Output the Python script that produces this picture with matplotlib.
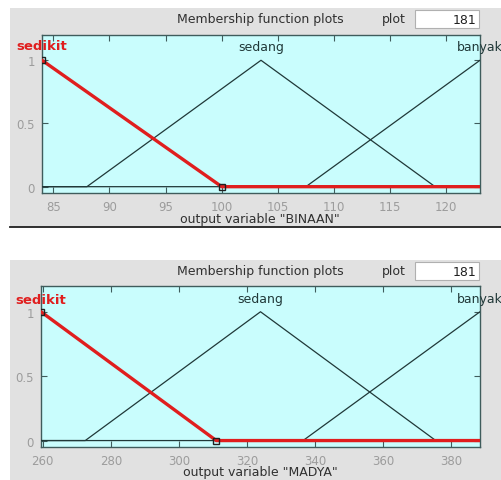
import matplotlib
matplotlib.use("Agg")
import matplotlib.pyplot as plt
from matplotlib.patches import Rectangle
from matplotlib.lines import Line2D

plt.rcParams['font.family'] = ['DejaVu Sans']

W, H = 501, 481

# ---- data: top panel (BINAAN) ----
binaan_xlim = [84, 123]
binaan_xticks = [85, 90, 95, 100, 105, 110, 115, 120]
binaan_sedikit_x = [84, 100, 123]
binaan_sedikit_y = [1, 0, 0]
binaan_sedang_x = [84, 88, 103.5, 119, 123]
binaan_sedang_y = [0, 0, 1, 0, 0]
binaan_banyak_x = [84, 107.5, 123]
binaan_banyak_y = [0, 0, 1]

# ---- data: bottom panel (MADYA) ----
madya_xlim = [259.5, 388.5]
madya_xticks = [260, 280, 300, 320, 340, 360, 380]
madya_sedikit_x = [259.5, 311, 388.5]
madya_sedikit_y = [1, 0, 0]
madya_sedang_x = [259.5, 272.5, 324, 375.5, 388.5]
madya_sedang_y = [0, 0, 1, 0, 0]
madya_banyak_x = [259.5, 336.5, 388.5]
madya_banyak_y = [0, 0, 1]

yticks = [0, 0.5, 1]
ytick_labels = ['0', '0.5', '1']
mf_names = ['sedikit', 'sedang', 'banyak']
plot_points = '181'

GRAY = '#e1e1e1'
CYAN = '#c9fdfd'
SPINE = '#3f5c5c'
TICKLBL = '#9c9c9c'
DARK = '#203838'
RED = '#e01e1e'


def fx(x):
    return x / W


def fy(y):
    return 1 - y / H


fig = plt.figure(figsize=(W / 100, H / 100), dpi=100)
fig.patch.set_facecolor('white')


def panel(gtop, gbot, ax_rect_px, xlim, xticks, sed_x, sed_y, sdg_x, sdg_y,
          bny_x, bny_y, xlabel, title_y, label_y, xlabel_y, black_line):
    fig.add_artist(Rectangle((fx(10), fy(gbot)), fx(501) - fx(10), fy(gtop) - fy(gbot),
                             transform=fig.transFigure, facecolor=GRAY,
                             edgecolor='none', zorder=0))
    if black_line:
        fig.add_artist(Line2D([fx(10), 1], [fy(gbot), fy(gbot)],
                              transform=fig.transFigure, color='#202020', lw=1.3))
    l, t, r, b = ax_rect_px
    ax = fig.add_axes([fx(l), fy(b), fx(r) - fx(l), fy(t) - fy(b)])
    ax.set_facecolor(CYAN)
    ax.set_xlim(xlim)
    ax.set_ylim(-0.05, 1.2)
    ax.set_xticks(xticks)
    ax.set_yticks(yticks)
    ax.set_yticklabels(ytick_labels)
    ax.tick_params(direction='in', length=4, top=True, right=True,
                   labelsize=8.5, labelcolor=TICKLBL, color=SPINE, pad=5)
    for s in ax.spines.values():
        s.set_color(SPINE)
        s.set_linewidth(1.0)
    ax.plot(sdg_x, sdg_y, color=DARK, lw=0.9, zorder=3)
    ax.plot(bny_x, bny_y, color=DARK, lw=0.9, zorder=3)
    ax.plot(sed_x, sed_y, color=RED, lw=2.4, zorder=4, solid_joinstyle='miter')
    ax.plot(sed_x[:2], sed_y[:2], linestyle='none', marker='s', markersize=4.5,
            markerfacecolor='none', markeredgecolor='#202020', markeredgewidth=1.0,
            zorder=5)
    peaks = [sed_x[0], sdg_x[2], bny_x[-1]]
    for name, px in zip(mf_names, peaks):
        xpix = ax.transData.transform((px, 0))[0]
        xf = xpix / (fig.dpi * fig.get_figwidth())
        if name == 'sedikit':
            fig.text(xf, fy(label_y), name, ha='center', va='center',
                     color=RED, fontsize=9.5, fontweight='bold')
        else:
            fig.text(xf, fy(label_y), name, ha='center', va='center',
                     color=DARK, fontsize=9)
    fig.text(fx(260), fy(title_y), 'Membership function plots', ha='center',
             va='center', fontsize=9, color='#303030')
    fig.text(fx(394), fy(title_y), 'plot', ha='center', va='center',
             fontsize=9, color='#303030')
    fig.add_artist(Rectangle((fx(415), fy(title_y + 9)), fx(479) - fx(415), 18 / H,
                             transform=fig.transFigure, facecolor='white',
                             edgecolor='#b0b0b0', lw=0.8))
    fig.text(fx(476), fy(title_y), plot_points, ha='right', va='center',
             fontsize=9, color='#202020')
    fig.text(fx(260), fy(xlabel_y), xlabel, ha='center', va='center',
             fontsize=9, color='#303030')
    return ax


panel(9, 228, (42, 36, 480, 194), binaan_xlim, binaan_xticks,
      binaan_sedikit_x, binaan_sedikit_y, binaan_sedang_x, binaan_sedang_y,
      binaan_banyak_x, binaan_banyak_y, 'output variable "BINAAN"',
      title_y=20, label_y=47, xlabel_y=220, black_line=True)

panel(261, 481, (41, 287, 480, 448), madya_xlim, madya_xticks,
      madya_sedikit_x, madya_sedikit_y, madya_sedang_x, madya_sedang_y,
      madya_banyak_x, madya_banyak_y, 'output variable "MADYA"',
      title_y=272, label_y=300, xlabel_y=473, black_line=False)

fig.savefig('out.png', dpi=100)
